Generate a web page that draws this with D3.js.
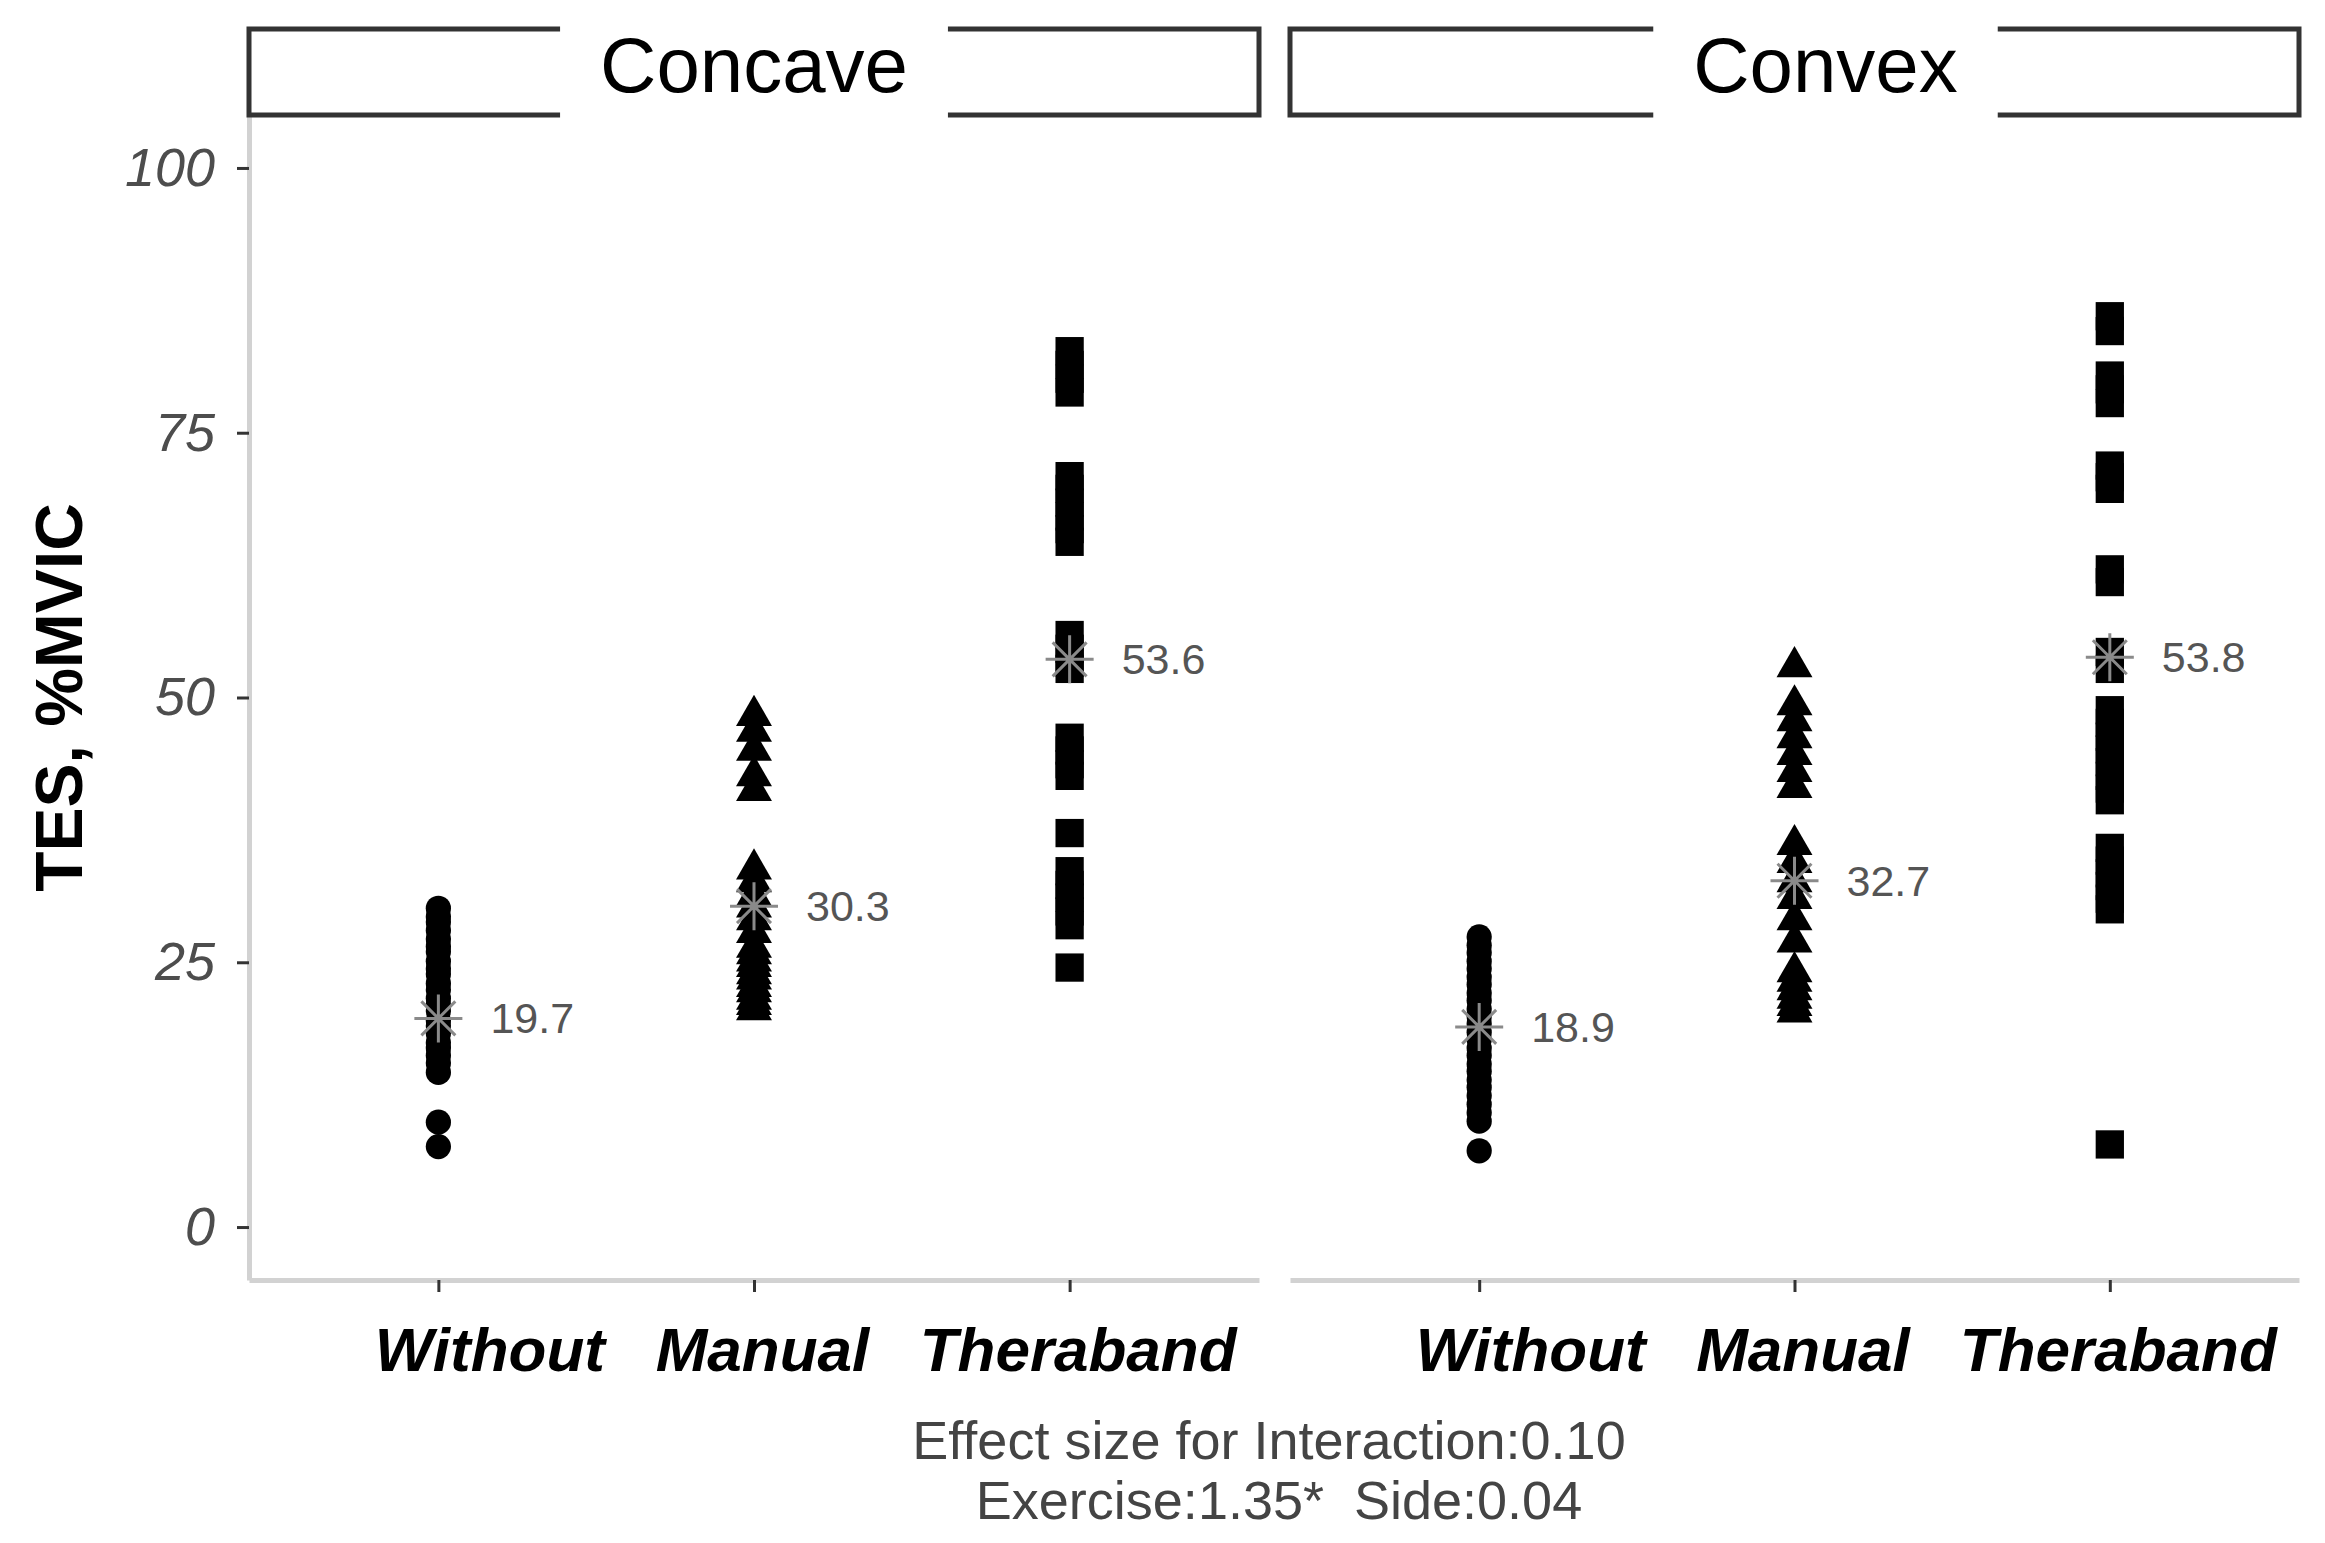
<!DOCTYPE html>
<html><head><meta charset="utf-8">
<script src="https://cdn.jsdelivr.net/npm/d3@7"></script>
<style>
body{margin:0;background:#fff}
svg{display:block;background:#fff}
text{font-family:"Liberation Sans",Arial,Helvetica,sans-serif}
</style>
</head><body>
<svg id="chart" width="2325" height="1543"></svg>
<script>
// ---------------- data ----------------
const sides = ["Concave", "Convex"];
const exercises = ["Without", "Manual", "Theraband"];
const yTicks = [0, 25, 50, 75, 100];

const concaveWithout = [30.1, 29.3, 28.8, 28, 27.2, 26.5, 26, 25.1, 24.4, 23.9, 23, 22.4, 21.6, 21, 20.4, 19.5, 19, 18.3, 17.4, 16.9, 16.2, 15.5, 14.6, 9.9, 7.6];
const concaveManual = [48.3, 46.8, 45, 42.6, 41.2, 33.8, 32.6, 31.3, 30.2, 29, 27.8, 26.4, 25.8, 25.1, 24.6, 23.9, 23.4, 22.7, 22.2, 21.5, 21, 20.5];
const concaveTheraband = [82.7, 81.4, 80.1, 78.8, 70.9, 69.7, 68.4, 67.1, 65.9, 64.7, 55.9, 54.6, 53.3, 52.7, 46.2, 45, 43.7, 42.6, 37.2, 33.6, 32.3, 31.1, 29.8, 28.5, 24.5];

const convexWithout = [27.4, 26.6, 25.9, 25.1, 24.4, 23.6, 22.9, 22.1, 21.4, 20.6, 19.9, 19.2, 18.4, 17.7, 16.9, 16.2, 15.4, 14.7, 13.9, 13.2, 12.4, 11.6, 10.8, 10, 7.2];
const convexManual = [52.9, 49.3, 47.8, 46.2, 44.6, 43, 41.5, 36.1, 34.4, 32.6, 31, 29, 26.9, 24.1, 23.2, 22.4, 21.6, 20.9, 20.3];
const convexTheraband = [86, 84.6, 80.4, 79.1, 77.8, 71.9, 70.8, 69.7, 62.1, 60.9, 54.3, 52.7, 48.8, 47.6, 46.3, 45.1, 43.9, 42.6, 41.4, 40.3, 35.8, 34.6, 33.4, 32.2, 31, 30, 7.8];

const concaveMeans = [19.7, 30.3, 53.6];
const convexMeans = [18.9, 32.7, 53.8];

const yTitle = "TES, %MVIC";
const captionLines = ["Effect size for Interaction:0.10", "Exercise:1.35*  Side:0.04"];

// ---------------- build ----------------
const panelData = [
  {side: sides[0], groups: [concaveWithout, concaveManual, concaveTheraband], means: concaveMeans},
  {side: sides[1], groups: [convexWithout, convexManual, convexTheraband], means: convexMeans}
];

const W = 2325, H = 1543;
const panelTop = 115, panelBottom = 1280, stripTop = 29;
const panelX = [[249, 1259], [1290, 2299]];

const svg = d3.select("#chart");
svg.append("rect").attr("width", W).attr("height", H).attr("fill", "#fff");

const y = d3.scaleLinear().domain([-5, 105]).range([panelBottom, panelTop]);

const shapeFor = {
  Without: d3.symbol().type(d3.symbolCircle).size(500),
  Manual: d3.symbol().type(d3.symbolTriangle).size(560),
  Theraband: d3.symbol().type(d3.symbolSquare).size(800)
};

function asterisk(r) {
  const d = r * Math.SQRT1_2;
  return `M${-r},0L${r},0M0,${-r}L0,${r}M${-d},${-d}L${d},${d}M${-d},${d}L${d},${-d}`;
}

panelData.forEach((p, i) => {
  const [x0, x1] = panelX[i];
  const x = d3.scalePoint().domain(exercises).range([x0, x1]).padding(0.6);

  // x axis
  const gx = svg.append("g").attr("transform", `translate(0,${panelBottom})`)
    .call(d3.axisBottom(x).tickSize(12).tickSizeOuter(0).tickPadding(35));
  gx.select(".domain").attr("stroke", "#d2d2d2").attr("stroke-width", 5);
  gx.selectAll(".tick line").attr("stroke", "#333").attr("stroke-width", 3);
  gx.selectAll(".tick text")
    .attr("fill", "#000").attr("font-size", 62).attr("font-weight", "bold").attr("font-style", "italic")
    .attr("font-family", '"Liberation Sans",Arial,sans-serif')
    .attr("dx", d => d === "Without" ? 51 : 8);

  // y axis on first panel only
  if (i === 0) {
    const gy = svg.append("g").attr("transform", `translate(${x0},0)`)
      .call(d3.axisLeft(y).tickValues(yTicks).tickSize(12).tickSizeOuter(0).tickPadding(22));
    gy.select(".domain").attr("stroke", "#d2d2d2").attr("stroke-width", 5);
    gy.selectAll(".tick line").attr("stroke", "#333").attr("stroke-width", 3);
    gy.selectAll(".tick text")
      .attr("fill", "#4d4d4d").attr("font-size", 54).attr("font-style", "italic")
      .attr("font-family", '"Liberation Sans",Arial,sans-serif');
  }

  // points
  p.groups.forEach((vals, k) => {
    const ex = exercises[k];
    svg.append("g").selectAll("path").data(vals).join("path")
      .attr("d", shapeFor[ex]())
      .attr("transform", v => `translate(${x(ex)},${y(v)})`)
      .attr("fill", "#000");
  });

  // means
  p.means.forEach((m, k) => {
    const ex = exercises[k];
    svg.append("path")
      .attr("d", asterisk(24))
      .attr("transform", `translate(${x(ex)},${y(m)})`)
      .attr("stroke", "#8a8a8a").attr("stroke-width", 3).attr("fill", "none");
    svg.append("text")
      .attr("x", x(ex) + 52).attr("y", y(m))
      .attr("dominant-baseline", "central")
      .attr("font-size", 43).attr("fill", "#555")
      .text(m.toFixed(1));
  });

  // strip
  svg.append("rect")
    .attr("x", x0).attr("y", stripTop).attr("width", x1 - x0).attr("height", panelTop - stripTop)
    .attr("fill", "none").attr("stroke", "#333").attr("stroke-width", 5);
  const cx = (x0 + x1) / 2 + (i === 1 ? 31 : 0);
  const bg = svg.append("rect").attr("fill", "#fff");
  const t = svg.append("text")
    .attr("x", cx).attr("y", 92).attr("text-anchor", "middle")
    .attr("font-size", 78).attr("fill", "#000")
    .text(p.side);
  const tw = t.node().getComputedTextLength();
  bg.attr("x", cx - tw / 2 - 40).attr("width", tw + 80).attr("y", stripTop - 8).attr("height", panelTop - stripTop + 16);
});

// y title
svg.append("text")
  .attr("transform", `translate(59,${(panelTop + panelBottom) / 2}) rotate(-90)`)
  .attr("text-anchor", "middle").attr("dominant-baseline", "central")
  .attr("font-size", 66).attr("font-weight", "bold").attr("fill", "#000")
  .text(yTitle);

// caption
const capX = (panelX[0][0] + panelX[1][1]) / 2;
captionLines.forEach((line, i) => {
  svg.append("text")
    .attr("x", capX + (i === 0 ? -5 : 5)).attr("y", 1459 + i * 60)
    .attr("text-anchor", "middle")
    .attr("font-size", 54).attr("fill", "#444")
    .style("white-space", "pre")
    .text(line);
});
</script>
</body></html>
